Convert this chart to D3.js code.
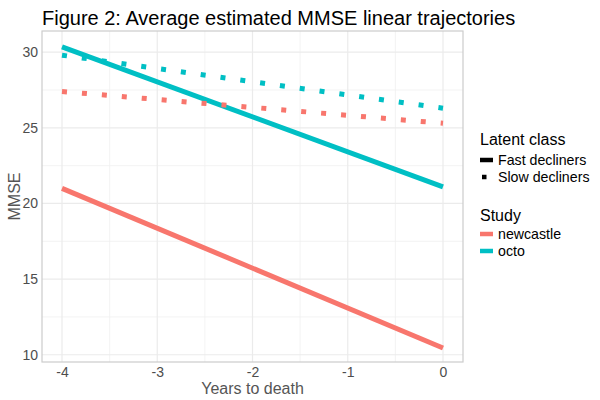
<!DOCTYPE html>
<html>
<head>
<meta charset="utf-8">
<script src="https://cdn.jsdelivr.net/npm/d3@7"></script>
<style>
  body { margin: 0; background: #fff; }
  text { font-family: "Liberation Sans", Arial, sans-serif; }
</style>
</head>
<body>
<div id="viz"></div>
<script>
// years to death (x) and the estimated MMSE at each end of the line
var years = [-4, 0];
var xTicks = [-4, -3, -2, -1, 0];
var yTicks = [10, 15, 20, 25, 30];
var studies = ['newcastle', 'octo'];
var classes = ['Fast decliners', 'Slow decliners'];
var newcastleFast = [21.0, 10.45];
var newcastleSlow = [27.4, 25.3];
var octoFast = [30.35, 21.1];
var octoSlow = [29.8, 26.3];

var series = [
  {study: 'newcastle', cls: 'Fast decliners', vals: newcastleFast},
  {study: 'octo', cls: 'Fast decliners', vals: octoFast},
  {study: 'newcastle', cls: 'Slow decliners', vals: newcastleSlow},
  {study: 'octo', cls: 'Slow decliners', vals: octoSlow}
];

var W = 600, H = 400;
var m = {left: 42, right: 137, top: 31, bottom: 38};

var svg = d3.select('#viz').append('svg')
    .attr('width', W).attr('height', H);

var x = d3.scaleLinear().domain([-4.21, 0.21]).range([m.left, W - m.right]);
var y = d3.scaleLinear().domain([9.52, 31.4]).range([H - m.bottom, m.top]);
var colour = d3.scaleOrdinal().domain(studies).range(['#F8766D', '#00BFC4']);
var dash = d3.scaleOrdinal().domain(classes).range(['none', '5,15']);

svg.append('text')
    .attr('x', 42).attr('y', 25)
    .attr('font-size', 20).attr('fill', '#000')
    .text('Figure 2: Average estimated MMSE linear trajectories');

// grid
var g = svg.append('g');
var minorX = d3.range(-3.5, 0, 1), minorY = d3.range(12.5, 30, 5);
g.selectAll('.mx').data(minorX).enter().append('line')
    .attr('x1', d => x(d)).attr('x2', d => x(d))
    .attr('y1', m.top).attr('y2', H - m.bottom)
    .attr('stroke', '#f0f0f0').attr('stroke-width', 0.8);
g.selectAll('.my').data(minorY).enter().append('line')
    .attr('y1', d => y(d)).attr('y2', d => y(d))
    .attr('x1', m.left).attr('x2', W - m.right)
    .attr('stroke', '#f0f0f0').attr('stroke-width', 0.8);
g.selectAll('.Mx').data(xTicks).enter().append('line')
    .attr('x1', d => x(d)).attr('x2', d => x(d))
    .attr('y1', m.top).attr('y2', H - m.bottom)
    .attr('stroke', '#ebebeb').attr('stroke-width', 1.2);
g.selectAll('.My').data(yTicks).enter().append('line')
    .attr('y1', d => y(d)).attr('y2', d => y(d))
    .attr('x1', m.left).attr('x2', W - m.right)
    .attr('stroke', '#ebebeb').attr('stroke-width', 1.2);

// lines
var line = d3.line().x((d, i) => x(years[i])).y(d => y(d));
svg.selectAll('.traj').data(series).enter().append('path')
    .attr('d', d => line(d.vals))
    .attr('fill', 'none')
    .attr('stroke', d => colour(d.study))
    .attr('stroke-width', 5)
    .attr('stroke-dasharray', d => dash(d.cls))
    .attr('stroke-linecap', 'butt');

// panel border
svg.append('rect')
    .attr('x', m.left).attr('y', m.top)
    .attr('width', W - m.right - m.left).attr('height', H - m.bottom - m.top)
    .attr('fill', 'none').attr('stroke', '#cccccc').attr('stroke-width', 1.2);

// axes
var xAxis = svg.append('g').attr('transform', 'translate(0,' + (H - m.bottom) + ')')
    .call(d3.axisBottom(x).tickValues(xTicks).tickSize(0).tickPadding(5).tickFormat(d3.format('d')));
var yAxis = svg.append('g').attr('transform', 'translate(' + m.left + ',0)')
    .call(d3.axisLeft(y).tickValues(yTicks).tickSize(0).tickPadding(4));
[xAxis, yAxis].forEach(function(a) {
  a.select('.domain').remove();
  a.selectAll('text').attr('fill', '#4d4d4d').attr('font-size', 14)
    .attr('font-family', '"Liberation Sans", Arial, sans-serif');
});
xAxis.selectAll('text').text(d => d < 0 ? '-' + Math.abs(d) : d);

svg.append('text')
    .attr('x', (m.left + W - m.right) / 2).attr('y', 394)
    .attr('text-anchor', 'middle').attr('font-size', 16).attr('fill', '#555')
    .text('Years to death');
svg.append('text')
    .attr('transform', 'translate(20,' + ((m.top + H - m.bottom) / 2) + ') rotate(-90)')
    .attr('text-anchor', 'middle').attr('font-size', 16).attr('fill', '#555')
    .text('MMSE');

// legends
var lx = 480;
var leg1 = svg.append('g');
leg1.append('text').attr('x', lx).attr('y', 145).attr('font-size', 16).text('Latent class');
leg1.selectAll('.k').data(classes).enter().append('line')
    .attr('x1', lx).attr('x2', lx + 13)
    .attr('y1', (d, i) => 160 + i * 17).attr('y2', (d, i) => 160 + i * 17)
    .attr('stroke', '#000').attr('stroke-width', 4.5)
    .attr('stroke-dasharray', d => d === 'Slow decliners' ? '4.5,13.5' : 'none')
    .attr('transform', d => d === 'Slow decliners' ? 'translate(2,0)' : null);
leg1.selectAll('.l').data(classes).enter().append('text')
    .attr('x', lx + 18).attr('y', (d, i) => 165 + i * 17)
    .attr('font-size', 14.2).text(d => d);

var leg2 = svg.append('g');
leg2.append('text').attr('x', lx).attr('y', 221).attr('font-size', 16).text('Study');
leg2.selectAll('.k').data(studies).enter().append('line')
    .attr('x1', lx).attr('x2', lx + 13)
    .attr('y1', (d, i) => 234 + i * 17).attr('y2', (d, i) => 234 + i * 17)
    .attr('stroke', d => colour(d)).attr('stroke-width', 4.5);
leg2.selectAll('.l').data(studies).enter().append('text')
    .attr('x', lx + 18).attr('y', (d, i) => 239 + i * 17)
    .attr('font-size', 14.2).text(d => d);
</script>
</body>
</html>
